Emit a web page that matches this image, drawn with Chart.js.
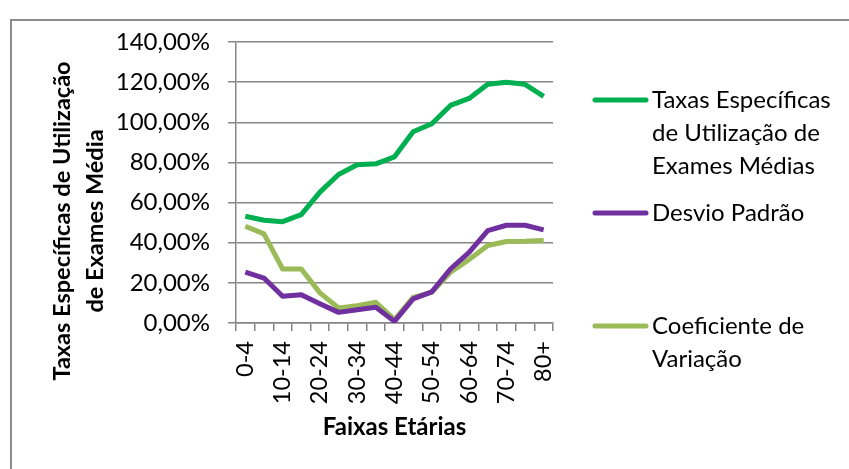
<!DOCTYPE html>
<html>
<head>
<meta charset="utf-8">
<script src="https://cdn.jsdelivr.net/npm/chart.js@4.4.0/dist/chart.umd.min.js"></script>
<style>
  html, body { margin: 0; padding: 0; background: #fff; }
  #wrap { position: relative; width: 849px; height: 469px; overflow: hidden; }
  #frame { position: absolute; left: 10px; top: 19px; width: 860px; height: 470px; border: 2px solid #8c8c8c; box-sizing: border-box; }
  canvas { position: absolute; left: 0; top: 0; }
</style>
</head>
<body>
<div id="wrap">
  <div id="frame"></div>
  <canvas id="chart" width="849" height="469"></canvas>
</div>
<script>
// age groups
const faixas = ['0-4', '5-9', '10-14', '15-19', '20-24', '25-29', '30-34', '35-39', '40-44',
    '45-49', '50-54', '55-59', '60-64', '65-69', '70-74', '75-79', '80+'];

// values in %
const taxasMedias = [53.2, 51.2, 50.5, 54.0, 65.2, 74.0, 78.8, 79.3, 82.8, 95.3, 99.3, 108.4, 111.9, 118.9, 120.0, 118.9, 112.9];
const desvioPadrao = [25.4, 22.4, 13.3, 14.1, 9.6, 5.3, 6.6, 7.8, 0.8, 12.0, 15.5, 26.9, 35.2, 46.0, 48.7, 48.7, 46.4];
const coefVariacao = [48.2, 44.4, 26.9, 26.9, 15.0, 7.5, 8.6, 10.3, 1.7, 12.8, 15.3, 25.3, 31.6, 38.6, 40.6, 40.7, 41.1];

const seriesNames = [
    ['Taxas Específicas', 'de Utilização de', 'Exames Médias'],
    ['Desvio Padrão'],
    ['Coeficiente de', 'Variação']
];
const seriesColors = ['#00B050', '#7030A0', '#9BBB59'];

const yTitle = ['Taxas Específicas de Utilização', 'de Exames Média'];
const xTitle = 'Faixas Etárias';

Chart.defaults.font.family = 'Lato';
Chart.defaults.color = '#000';

// y axis title, drawn by hand so it can sit lower than the plot centre
const yTitlePlugin = {
    id: 'yTitlePlugin',
    afterDraw(chart) {
        const c = chart.ctx;
        c.save();
        c.font = 'bold 23.5px Lato';
        c.fillStyle = '#000';
        c.textAlign = 'center';
        c.textBaseline = 'middle';
        c.translate(0, 221);
        c.rotate(-Math.PI / 2);
        c.fillText(yTitle[0], 0, 62);
        c.fillText(yTitle[1], 0, 95);
        c.restore();
    }
};

// legend on the right, with wrapped labels
const sideLegend = {
    id: 'sideLegend',
    afterDraw(chart) {
        const c = chart.ctx;
        c.save();
        c.font = '24px Lato';
        c.textBaseline = 'middle';
        c.textAlign = 'left';
        chart.data.datasets.forEach((ds, i) => {
            const y = 100 + i * 113;
            c.strokeStyle = ds.borderColor;
            c.lineWidth = 5;
            c.lineCap = 'round';
            c.beginPath();
            c.moveTo(595, y);
            c.lineTo(646, y);
            c.stroke();
            c.fillStyle = '#000';
            seriesNames[i].forEach((line, j) => {
                c.fillText(line, 652, y + j * 33);
            });
        });
        c.restore();
    }
};

const ctx = document.getElementById('chart').getContext('2d');

const chart = new Chart(ctx, {
    type: 'line',
    data: {
        labels: faixas,
        datasets: [taxasMedias, desvioPadrao, coefVariacao].map((d, i) => ({
            label: seriesNames[i].join(' '),
            data: d,
            borderColor: seriesColors[i],
            backgroundColor: seriesColors[i],
            borderWidth: 5,
            pointRadius: 0,
            tension: 0,
            borderJoinStyle: 'round'
        }))
    },
    options: {
        responsive: false,
        animation: false,
        layout: { padding: { left: 0, right: 296, top: 42, bottom: 0 } },
        plugins: {
            legend: { display: false },
            tooltip: { enabled: false }
        },
        scales: {
            x: {
                offset: true,
                afterFit(scale) { scale.height = 146; },
                grid: { offset: true, drawOnChartArea: false, drawTicks: true, tickLength: 8, color: '#868686', lineWidth: 1.5 },
                border: { color: '#868686', width: 1.5 },
                ticks: {
                    autoSkip: false,
                    minRotation: 90,
                    maxRotation: 90,
                    padding: 10,
                    font: { size: 23.5 },
                    callback(val, idx) { return idx % 2 === 0 ? faixas[idx] : ''; }
                },
                title: {
                    display: true,
                    text: xTitle,
                    font: { size: 24, weight: 'bold' },
                    padding: { top: 0, bottom: 27 }
                }
            },
            y: {
                min: 0,
                max: 140,
                afterFit(scale) { scale.width = 236; },
                grid: { drawTicks: true, tickLength: 8, color: '#868686', lineWidth: 1.5 },
                border: { color: '#868686', width: 1.5 },
                ticks: {
                    stepSize: 20,
                    padding: 18,
                    font: { size: 24 },
                    callback: v => v.toFixed(2).replace('.', ',') + '%'
                }
            }
        }
    },
    plugins: [yTitlePlugin, sideLegend]
});
</script>
</body>
</html>
